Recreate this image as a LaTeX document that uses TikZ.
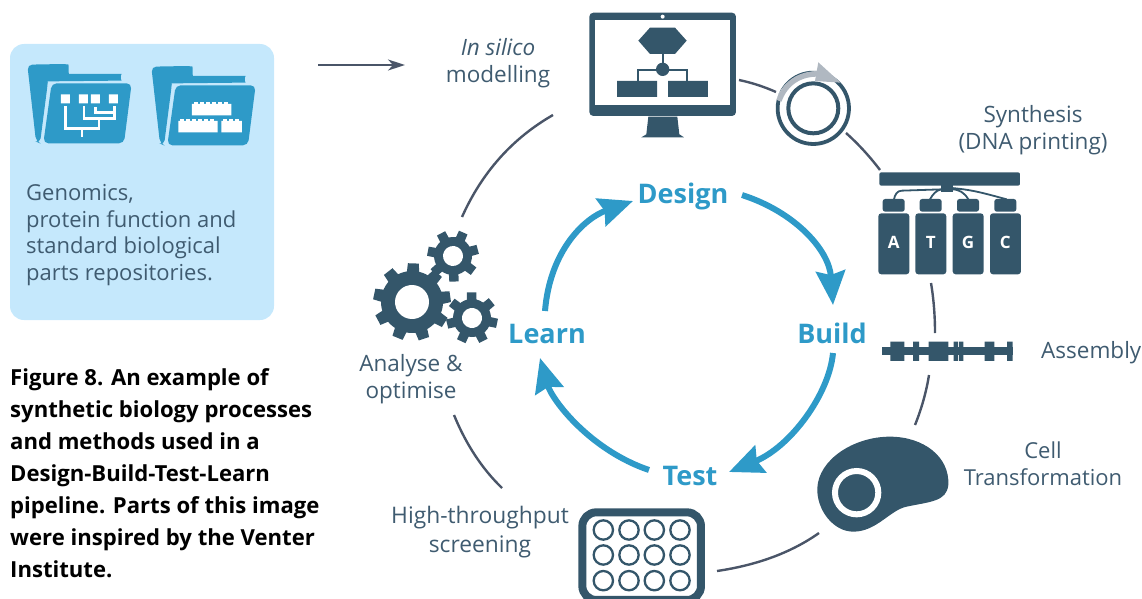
\documentclass[tikz,border=0pt]{standalone}
\usepackage{fontspec}
\setmainfont{Open Sans}
\usetikzlibrary{arrows.meta,calc}
\definecolor{dk}{HTML}{34566A}
\definecolor{lbl}{HTML}{3F5B70}
\definecolor{bl}{HTML}{2E9AC8}
\definecolor{pan}{HTML}{C5E8FC}
\definecolor{cn}{HTML}{4A5568}
\definecolor{gy}{HTML}{B0B8C1}
\tikzset{
 lab/.style={font=\fontsize{22.5}{27}\selectfont,text=lbl,align=center,inner sep=0pt},
 phase/.style={font=\fontsize{27}{30}\selectfont\bfseries,text=bl,inner sep=0pt},
 captext/.style={font=\fontsize{22.1}{32}\selectfont\bfseries,text=black,align=left,anchor=north west,inner sep=0pt},
 outer/.style={draw=cn,line width=2.4pt},
 loopar/.style={draw=bl,line width=6pt,-{Stealth[length=34pt,width=29pt,inset=4pt]}},
 zoomed/.style={x=.3333pt,y=-.3333pt},
}
\newcommand{\ringarc}[3]{\draw[outer] (#1) .. controls ($(#1)!.667!(#2)$) and ($(#3)!.667!(#2)$) .. (#3);}
\newcommand{\gearshape}[7]{% cx cy router rroot hole teeth rot
 \begin{scope}[shift={(#1,#2)},rotate=#7]
  \fill[dk] (0,0) circle ({#4});
  \pgfmathsetmacro{\stp}{360/#6}
  \pgfmathsetmacro{\wa}{\stp*0.3}
  \pgfmathsetmacro{\wb}{\stp*0.2}
  \foreach \i in {1,...,#6}{
   \fill[dk,rotate=\i*\stp] (-\wa:#4-1) -- (-\wb:#3) -- (\wb:#3) -- (\wa:#4-1) -- cycle;
  }
  \fill[white] (0,0) circle ({#5});
 \end{scope}}
\newcommand{\foldericon}{%
 \fill[bl,rounded corners=5pt] (82,104) -- (190,102) to[out=-5,in=180] (222,132) -- (350,132) to[out=0,in=0,looseness=1.5] (350,152) -- (155,154) to[out=180,in=85] (142,170) -- (120,340) -- (108,335) -- cycle;
 \fill[bl,rounded corners=5pt] (155,160) -- (395,160) -- (372,340) -- (130,340) -- cycle;
}
\begin{document}
\begin{tikzpicture}[x=1pt,y=-1pt]
\useasboundingbox (0,0) rectangle (1142,599);
% panel
\fill[pan,rounded corners=14pt] (10,44) rectangle (274,320);
\begin{scope}[shift={(0,30)},zoomed]
 \foldericon
 \fill[white] (183,193) rectangle (210,220) (237,193) rectangle (264,220) (273,193) rectangle (300,220) (327,193) rectangle (354,220);
 \draw[white,line width=2.4pt] (196,228) -- (196,295) -- (297,295) -- (297,265) (246,320) -- (246,295) (252,228) -- (252,265) -- (344,265) -- (344,228) (286,232) -- (286,247) -- (344,247);
\end{scope}
\begin{scope}[shift={(124,32)},zoomed]
 \foldericon
\end{scope}
\begin{scope}[shift={(0,30)},zoomed]
 \fill[white] (576,222) rectangle (694,256) (535,273) rectangle (653,307) (664,273) rectangle (726,307);
 \foreach \x in {582,600,618,636,654,672}{\fill[white] (\x,215) rectangle (\x+12,224);}
 \foreach \x in {541,559,577,595,613,631}{\fill[white] (\x,266) rectangle (\x+12,275);}
 \foreach \x in {670,688,706}{\fill[white] (\x,266) rectangle (\x+12,275);}
\end{scope}
\node[lab,anchor=north west,align=left,font=\fontsize{22}{26.7}\selectfont] (repo) at (26,184) {Genomics,\\protein function and\\standard biological\\parts repositories.};
\node[captext] (capt) at (10,368) {Figure 8. An example of\\synthetic biology processes\\and methods used in a\\Design-Build-Test-Learn\\pipeline. Parts of this image\\were inspired by the Venter\\Institute.};
% input arrow
\coordinate (inS) at (318,65); \coordinate (inE) at (405,65);
\draw[draw=cn,line width=1.8pt,-{Stealth[length=17pt,width=11pt,inset=5pt]}] (inS) -- (inE);
\node[lab] (silico) at (498,63) {\textit{In silico}\\modelling};
% monitor
\begin{scope}[shift={(570,0)},zoomed]
 \fill[dk,rounded corners=4pt] (58,38) rectangle (498,348);
 \fill[white] (76,60) rectangle (480,316);
 \fill[white] (278,50) circle (6);
 \fill[dk] (235,350) -- (322,350) -- (328,403) -- (342,412) -- (214,412) -- (229,403) -- cycle;
 \fill[dk] (205,122) -- (240,83) -- (315,83) -- (350,122) -- (315,162) -- (240,162) -- cycle;
 \fill[dk] (278,208) circle (20);
 \draw[dk,line width=2pt] (278,160) -- (278,200) (204,243) -- (204,210) -- (352,210) -- (352,243);
 \fill[dk] (141,243) rectangle (261,291) (294,243) rectangle (414,291);
 % plasmid
 \draw[dk,line width=3.8pt] (730,325) circle (107);
 \draw[dk,line width=4pt] (730,325) circle (75);
 \draw[white,line width=3pt] (623,300) .. controls (640,250) and (690,220) .. (745,218);
 \draw[gy,line width=5.5pt] (627,302) .. controls (645,250) and (690,220) .. (745,222);
 \fill[gy] (745,187) -- (812,248) -- (735,243) -- cycle;
\end{scope}
% outer ring
\coordinate (o1a) at (739,80); \coordinate (o1c) at (758,84); \coordinate (o1b) at (776,92);
\coordinate (o2a) at (846,133); \coordinate (o2c) at (864,149); \coordinate (o2b) at (880,170);
\coordinate (o3a) at (931,283); \coordinate (o3c) at (935,307); \coordinate (o3b) at (935,333);
\coordinate (o4a) at (929,375); \coordinate (o4c) at (925,400); \coordinate (o4b) at (915,425);
\coordinate (o5a) at (819,533); \coordinate (o5c) at (778,562); \coordinate (o5b) at (717,571);
\coordinate (o6a) at (502,488); \coordinate (o6c) at (472,459); \coordinate (o6b) at (454,415);
\coordinate (o7a) at (462,217); \coordinate (o7c) at (492,150); \coordinate (o7b) at (553,115);
\ringarc{o1a}{o1c}{o1b}
\ringarc{o2a}{o2c}{o2b}
\ringarc{o3a}{o3c}{o3b}
\ringarc{o4a}{o4c}{o4b}
\ringarc{o5a}{o5c}{o5b}
\ringarc{o6a}{o6c}{o6b}
\ringarc{o7a}{o7c}{o7b}
% DNA printer
\node[lab] (synth) at (1033,130) {Synthesis\\(DNA printing)};
\begin{scope}[shift={(860,160)},zoomed]
 \fill[dk,rounded corners=2pt] (58,37) rectangle (480,77);
 \fill[dk] (243,75) rectangle (278,97);
 \draw[dk,line width=1.8pt] (245,88) -- (125,92) to[out=180,in=80] (102,118)
  (245,88) to[out=190,in=60] (210,118)
  (275,88) to[out=0,in=120] (325,118)
  (275,84) to[out=-5,in=165] (440,118);
 \foreach \x/\l in {55/A,166/T,278/G,390/C}{
  \fill[dk,rounded corners=2.5pt] (\x+13,117) rectangle (\x+79,155);
  \fill[dk,rounded corners=3pt] (\x,160) rectangle (\x+93,343);
  \node[inner sep=0pt,text=white,font=\fontsize{17}{20}\selectfont\bfseries] (b\l) at (\x+46,248) {\l};
 }
 % assembly
 \fill[dk] (67,562) rectangle (458,585);
 \fill[dk] (91,545) rectangle (133,603) (159,545) rectangle (177,603) (206,545) rectangle (265,603) (281,545) rectangle (294,603) (297,545) rectangle (310,603) (374,545) rectangle (403,603) (441,545) rectangle (458,603);
\end{scope}
\node[lab,anchor=west] (asm) at (1041,353) {Assembly};
% cell
\begin{scope}[shift={(560,430)},zoomed]
 \fill[dk] (772,175) .. controls (775,90) and (880,20) .. (990,20) .. controls (1090,20) and (1170,80) .. (1165,165) .. controls (1160,215) and (1110,215) .. (1040,230) .. controls (990,240) and (950,305) .. (880,305) .. controls (820,305) and (770,240) .. (772,175) -- cycle;
 \draw[white,line width=6pt] (890,188) circle (65);
 % plate
 \fill[white] (65,245) rectangle (425,520);
 \draw[dk,line width=8pt,rounded corners=14pt] (67,247) rectangle (423,510);
 \foreach \x in {130,207,283,360}\foreach \y in {300,375,452}{\draw[dk,line width=2.3pt] (\x,\y) circle (29);}
\end{scope}
\node[lab,font=\fontsize{22}{27}\selectfont] (cellt) at (1043,464) {Cell\\Transformation};
\node[lab,font=\fontsize{22.8}{29}\selectfont] (hts) at (480,532) {High-throughput\\screening};
% gears
\gearshape{412}{302}{39}{31}{17}{9}{8}
\gearshape{453}{256}{26}{19}{10}{7}{15}
\gearshape{472}{318}{26}{19}{10}{7}{-12}
\node[lab] (ana) at (411,379) {Analyse \&\\optimise};
% DBTL
\node[phase] (design) at (683,196) {Design};
\node[phase] (build) at (832,333) {Build};
\node[phase] (test) at (690,476) {Test};
\node[phase] (learn) at (547,334) {Learn};
\coordinate (d1) at (742,195); \coordinate (d2) at (833,305);
\coordinate (b1) at (833,353); \coordinate (b2) at (729,472);
\coordinate (t1) at (649,470); \coordinate (t2) at (540,358);
\coordinate (l1) at (545,311); \coordinate (l2) at (633,201);
\draw[loopar] (d1) .. controls (795,212) and (829,250) .. (d2);
\draw[loopar] (b1) .. controls (829,395) and (790,447) .. (b2);
\draw[loopar] (t1) .. controls (590,450) and (552,400) .. (t2);
\draw[loopar] (l1) .. controls (550,250) and (585,218) .. (l2);
\end{tikzpicture}
\end{document}
